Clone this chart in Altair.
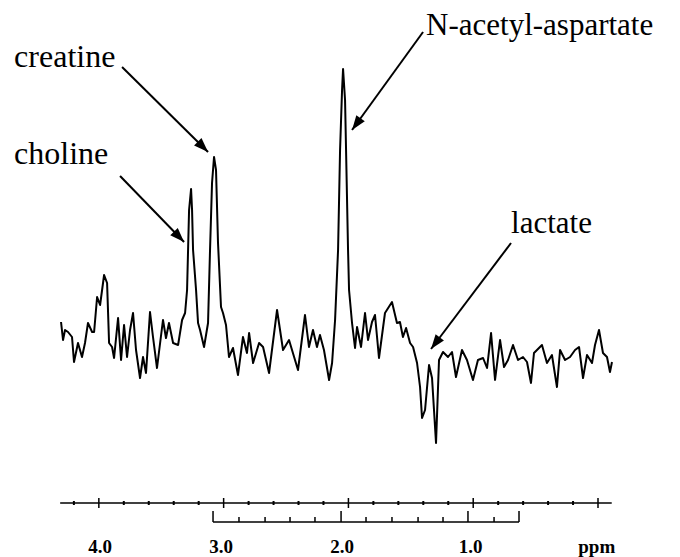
import altair as alt
import pandas as pd

# ---- spectrum (chemical shift in ppm, signal in arbitrary units) ----
ppm = [4.303, 4.287, 4.271, 4.247, 4.215, 4.199, 4.167, 4.135, 4.111, 4.087,
       4.054, 4.038, 4.014, 3.990, 3.958, 3.934, 3.918, 3.894, 3.878, 3.846,
       3.822, 3.798, 3.774, 3.750, 3.726, 3.702, 3.670, 3.646, 3.622, 3.590,
       3.566, 3.534, 3.486, 3.462, 3.438, 3.405, 3.365, 3.333, 3.309, 3.293,
       3.285, 3.277, 3.261, 3.253, 3.245, 3.221, 3.205, 3.189, 3.157, 3.141,
       3.125, 3.109, 3.093, 3.077, 3.061, 3.045, 3.021, 3.005, 2.981, 2.957,
       2.925, 2.885, 2.845, 2.813, 2.796, 2.764, 2.716, 2.684, 2.636, 2.572,
       2.524, 2.476, 2.404, 2.348, 2.316, 2.284, 2.252, 2.228, 2.196, 2.155,
       2.131, 2.107, 2.083, 2.067, 2.051, 2.043, 2.027, 2.019, 2.003, 1.995,
       1.971, 1.947, 1.931, 1.899, 1.867, 1.843, 1.811, 1.787, 1.755, 1.707,
       1.651, 1.611, 1.587, 1.563, 1.538, 1.506, 1.482, 1.450, 1.426, 1.410,
       1.386, 1.354, 1.330, 1.298, 1.274, 1.242, 1.202, 1.170, 1.138, 1.090,
       1.050, 1.002, 0.962, 0.921, 0.889, 0.857, 0.825, 0.785, 0.753, 0.721,
       0.681, 0.641, 0.601, 0.569, 0.537, 0.513, 0.449, 0.409, 0.369, 0.329,
       0.304, 0.264, 0.224, 0.184, 0.152, 0.120, 0.088, 0.048, 0.024, -0.008,
       -0.040, -0.072, -0.096, -0.112]
signal = [18, 0, 10, 8, 3, -22, -3, -17, -3, 17,
          8, 8, 43, 35, 65, 57, -3, -7, -18, 22,
          -20, 15, -17, 10, 27, -10, -38, -17, -33, 28,
          3, -28, 20, 2, 17, -3, -5, 20, 27, 50,
          90, 130, 151, 130, 90, 50, 17, 10, -7, 5,
          17, 90, 157, 183, 170, 97, 33, 27, 15, -17,
          -8, -35, 3, -13, 7, -23, -3, -7, -33, 30,
          -10, 0, -30, 25, -7, 10, -7, 5, -10, -40,
          -23, 20, 90, 190, 250, 271, 240, 190, 90, 50,
          17, -8, 13, -7, 27, 0, 18, 25, -18, 27,
          38, 17, 18, 3, 12, -3, -7, -23, -47, -78,
          -70, -25, -38, -103, -20, -12, -17, -12, -37, -10,
          -20, -40, -20, -18, -28, 7, -40, 0, -27, -20,
          -5, -20, -17, -22, -43, -13, -5, -23, -15, -47,
          -10, -20, -17, -10, -7, -38, -15, -23, -5, 10,
          -13, -17, -32, -22]

# ---- peak annotations ----
label_text = ["creatine", "choline", "N-acetyl-aspartate", "lactate"]
label_ppm = [4.679, 4.679, 1.378, 0.697]
label_sig = [273, 176, 305, 107]
label_size = [32, 32, 31, 31]

arrow_ppm_from = [3.814, 3.830, 1.402, 0.697]
arrow_sig_from = [273, 164, 308, 97]
arrow_ppm_to = [3.125, 3.317, 1.971, 1.338]
arrow_sig_to = [188, 98, 210, -9]
arrow_angle = [135, 136, 216, 217]

# ---- ppm scale drawn under the spectrum ----
major_ticks = [4.0, 3.0, 2.0, 1.0, 0.0]
minor_ticks = [4.2, 3.8, 3.6, 3.4, 3.2, 2.8, 2.6, 2.4, 2.2, 1.8, 1.6, 1.4,
               1.2, 0.8, 0.6, 0.4, 0.2]
tick_labels = ["4.0", "3.0", "2.0", "1.0", "ppm"]
tick_label_ppm = [3.99, 3.02, 2.05, 1.02, 0.01]
bracket_ticks = [3.085, 2.877, 2.668, 2.468, 2.268, 2.059, 1.859, 1.651,
                 1.442, 1.242, 1.042, 0.833, 0.633]
bracket_tall = [True, False, False, False, False, True, False, False,
                False, False, True, False, True]

AXIS_LEVEL = -163
BRACKET_LEVEL = -182
LABEL_LEVEL = -213
AXIS_START, AXIS_END = 4.31, -0.11

FONT = "Liberation Serif"

xs = alt.Scale(domain=[-0.593, 4.728], reverse=True, nice=False, zero=False)
ys = alt.Scale(domain=[-217, 332], nice=False, zero=False)


def X(field="ppm"):
    return alt.X(f"{field}:Q", scale=xs, axis=None)


def Y(field="sig"):
    return alt.Y(f"{field}:Q", scale=ys, axis=None)


spec_df = pd.DataFrame({"ppm": ppm, "sig": signal, "order": range(len(ppm))})
spectrum = alt.Chart(spec_df).mark_line(
    color="black", strokeWidth=2, strokeJoin="round"
).encode(x=X(), y=Y(), order="order:Q")

lab_df = pd.DataFrame({"ppm": label_ppm, "sig": label_sig, "text": label_text,
                       "size": label_size})
labels = alt.Chart(lab_df).mark_text(
    align="left", baseline="alphabetic", font=FONT, color="black"
).encode(x=X(), y=Y(), text="text:N",
         size=alt.Size("size:Q", scale=None, legend=None))

arr_df = pd.DataFrame({
    "ppm": arrow_ppm_from, "sig": arrow_sig_from,
    "ppm2": arrow_ppm_to, "sig2": arrow_sig_to, "angle": arrow_angle,
})
arrow_lines = alt.Chart(arr_df).mark_rule(color="black", strokeWidth=2).encode(
    x=X(), y=Y(), x2="ppm2:Q", y2="sig2:Q"
)
arrow_heads = alt.Chart(arr_df).mark_point(
    shape="M0,0L-0.36,1L0.36,1Z", filled=True, color="black", opacity=1,
    size=841, strokeWidth=0
).encode(x=X("ppm2"), y=Y("sig2"), angle=alt.Angle("angle:Q", scale=None))

axis_df = pd.DataFrame({"ppm": [AXIS_START], "ppm2": [AXIS_END], "sig": [AXIS_LEVEL]})
axis_line = alt.Chart(axis_df).mark_rule(color="black", strokeWidth=1.5).encode(
    x=X(), x2="ppm2:Q", y=Y()
)
maj_df = pd.DataFrame({"ppm": major_ticks, "sig": [AXIS_LEVEL + 5] * 5,
                       "sig2": [AXIS_LEVEL - 5] * 5})
maj = alt.Chart(maj_df).mark_rule(color="black", strokeWidth=1.5).encode(
    x=X(), y=Y(), y2="sig2:Q"
)
min_df = pd.DataFrame({"ppm": minor_ticks, "sig": [AXIS_LEVEL + 2] * len(minor_ticks),
                       "sig2": [AXIS_LEVEL - 2] * len(minor_ticks)})
mino = alt.Chart(min_df).mark_rule(color="black", strokeWidth=2).encode(
    x=X(), y=Y(), y2="sig2:Q"
)

br_df = pd.DataFrame({"ppm": [bracket_ticks[0]], "ppm2": [bracket_ticks[-1]],
                      "sig": [BRACKET_LEVEL]})
br_line = alt.Chart(br_df).mark_rule(color="black", strokeWidth=1.5).encode(
    x=X(), x2="ppm2:Q", y=Y()
)
brt_df = pd.DataFrame({
    "ppm": bracket_ticks,
    "sig": [BRACKET_LEVEL] * len(bracket_ticks),
    "sig2": [BRACKET_LEVEL + (11 if t else 5) for t in bracket_tall],
})
br_ticks = alt.Chart(brt_df).mark_rule(color="black", strokeWidth=1.5).encode(
    x=X(), y=Y(), y2="sig2:Q"
)

tl_df = pd.DataFrame({"ppm": tick_label_ppm, "sig": [LABEL_LEVEL] * 5, "text": tick_labels})
tick_text = alt.Chart(tl_df).mark_text(
    align="center", baseline="alphabetic", font=FONT, fontSize=19,
    fontWeight="bold", color="black"
).encode(x=X(), y=Y(), text="text:N")

chart = alt.layer(
    spectrum, arrow_lines, arrow_heads, labels,
    axis_line, maj, mino, br_line, br_ticks, tick_text
).properties(
    width=664, height=549,
    padding={"left": 0, "top": 0, "right": 0, "bottom": 0},
    autosize=alt.AutoSizeParams(type="none"),
    background="white",
).configure_view(stroke=None)

chart.save("out.html", embed_options={"renderer": "svg", "actions": False})
